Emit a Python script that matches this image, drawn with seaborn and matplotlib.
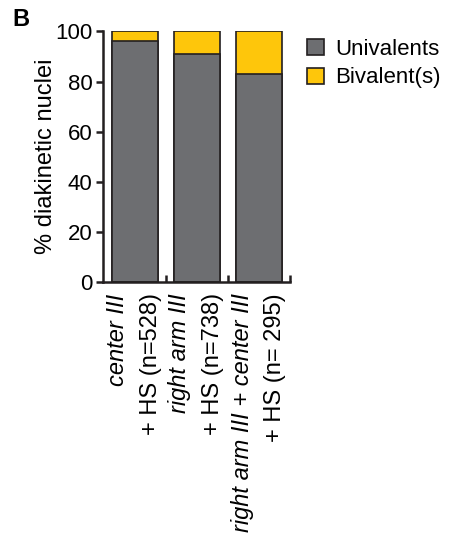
import seaborn as sns
import pandas as pd
import matplotlib.pyplot as plt
from matplotlib.patches import Patch

sns.set_style("ticks")
plt.rcParams['font.family'] = ['Liberation Sans', 'DejaVu Sans']
plt.rcParams['text.color'] = 'black'
plt.rcParams['axes.labelcolor'] = 'black'
plt.rcParams['xtick.color'] = 'black'
plt.rcParams['ytick.color'] = 'black'

# values
strains = ["center III", "right arm III", "right arm III + center III"]
counts = ["+ HS (n=528)", "+ HS (n=738)", "+ HS (n= 295)"]
univalents = [96, 91, 83]
bivalents = [4, 9, 17]

grey = "#6d6e71"
yellow = "#fec60b"
edge = "#231f20"

df = pd.DataFrame({"strain": strains,
                   "univalents": univalents,
                   "total": [u + b for u, b in zip(univalents, bivalents)]})

fig = plt.figure(figsize=(4.49, 5.42), dpi=100)
ax = fig.add_axes([0.2305, 0.4797, 0.4154, 0.4623])

# stacked: total (yellow) behind, univalents (grey) on top
sns.barplot(data=df, x="strain", y="total", color=yellow, saturation=1,
            width=0.74, edgecolor=edge, linewidth=1.2, ax=ax)
sns.barplot(data=df, x="strain", y="univalents", color=grey, saturation=1,
            width=0.74, edgecolor=edge, linewidth=1.2, ax=ax)

ax.set_ylim(0, 100)
ax.set_xlim(-0.5, 2.5)
ax.set_yticks([0, 20, 40, 60, 80, 100])
ax.tick_params(axis="y", labelsize=16, width=1.8, length=5, color=edge, pad=3)
ax.set_xticks([0.5, 1.5, 2.5])
ax.set_xticklabels([])
ax.tick_params(axis="x", direction="in", length=5, width=1.8, color=edge)
ax.set_xlabel("")
ax.set_ylabel("")
for s in ["left", "bottom"]:
    ax.spines[s].set_linewidth(1.8)
    ax.spines[s].set_color(edge)
sns.despine(ax=ax)

# y label placed explicitly, centred beside the axis
ax.text(-0.31, 0.5, "% diakinetic nuclei", transform=ax.transAxes,
        rotation=90, ha="center", va="center", fontsize=17)

# two-line category labels, first line italic
trans = ax.get_xaxis_transform()
for i, (s, c) in enumerate(zip(strains, counts)):
    ax.text(i - 0.27, -0.045, s, transform=trans, rotation=90, ha="center",
            va="top", fontsize=17, style="italic")
    ax.text(i + 0.26, -0.045, c, transform=trans, rotation=90, ha="center",
            va="top", fontsize=17)

handles = [Patch(facecolor=grey, edgecolor=edge, linewidth=1.2, label="Univalents"),
           Patch(facecolor=yellow, edgecolor=edge, linewidth=1.2, label="Bivalent(s)")]
fig.legend(handles=handles, loc="upper left", bbox_to_anchor=(0.665, 0.945),
           frameon=False, fontsize=16, handlelength=0.75, handleheight=0.75,
           handletextpad=0.5, labelspacing=0.35, borderaxespad=0)

fig.text(0.027, 0.985, "B", fontsize=17, fontweight="bold", va="top")

fig.savefig("out.png", dpi=100)
